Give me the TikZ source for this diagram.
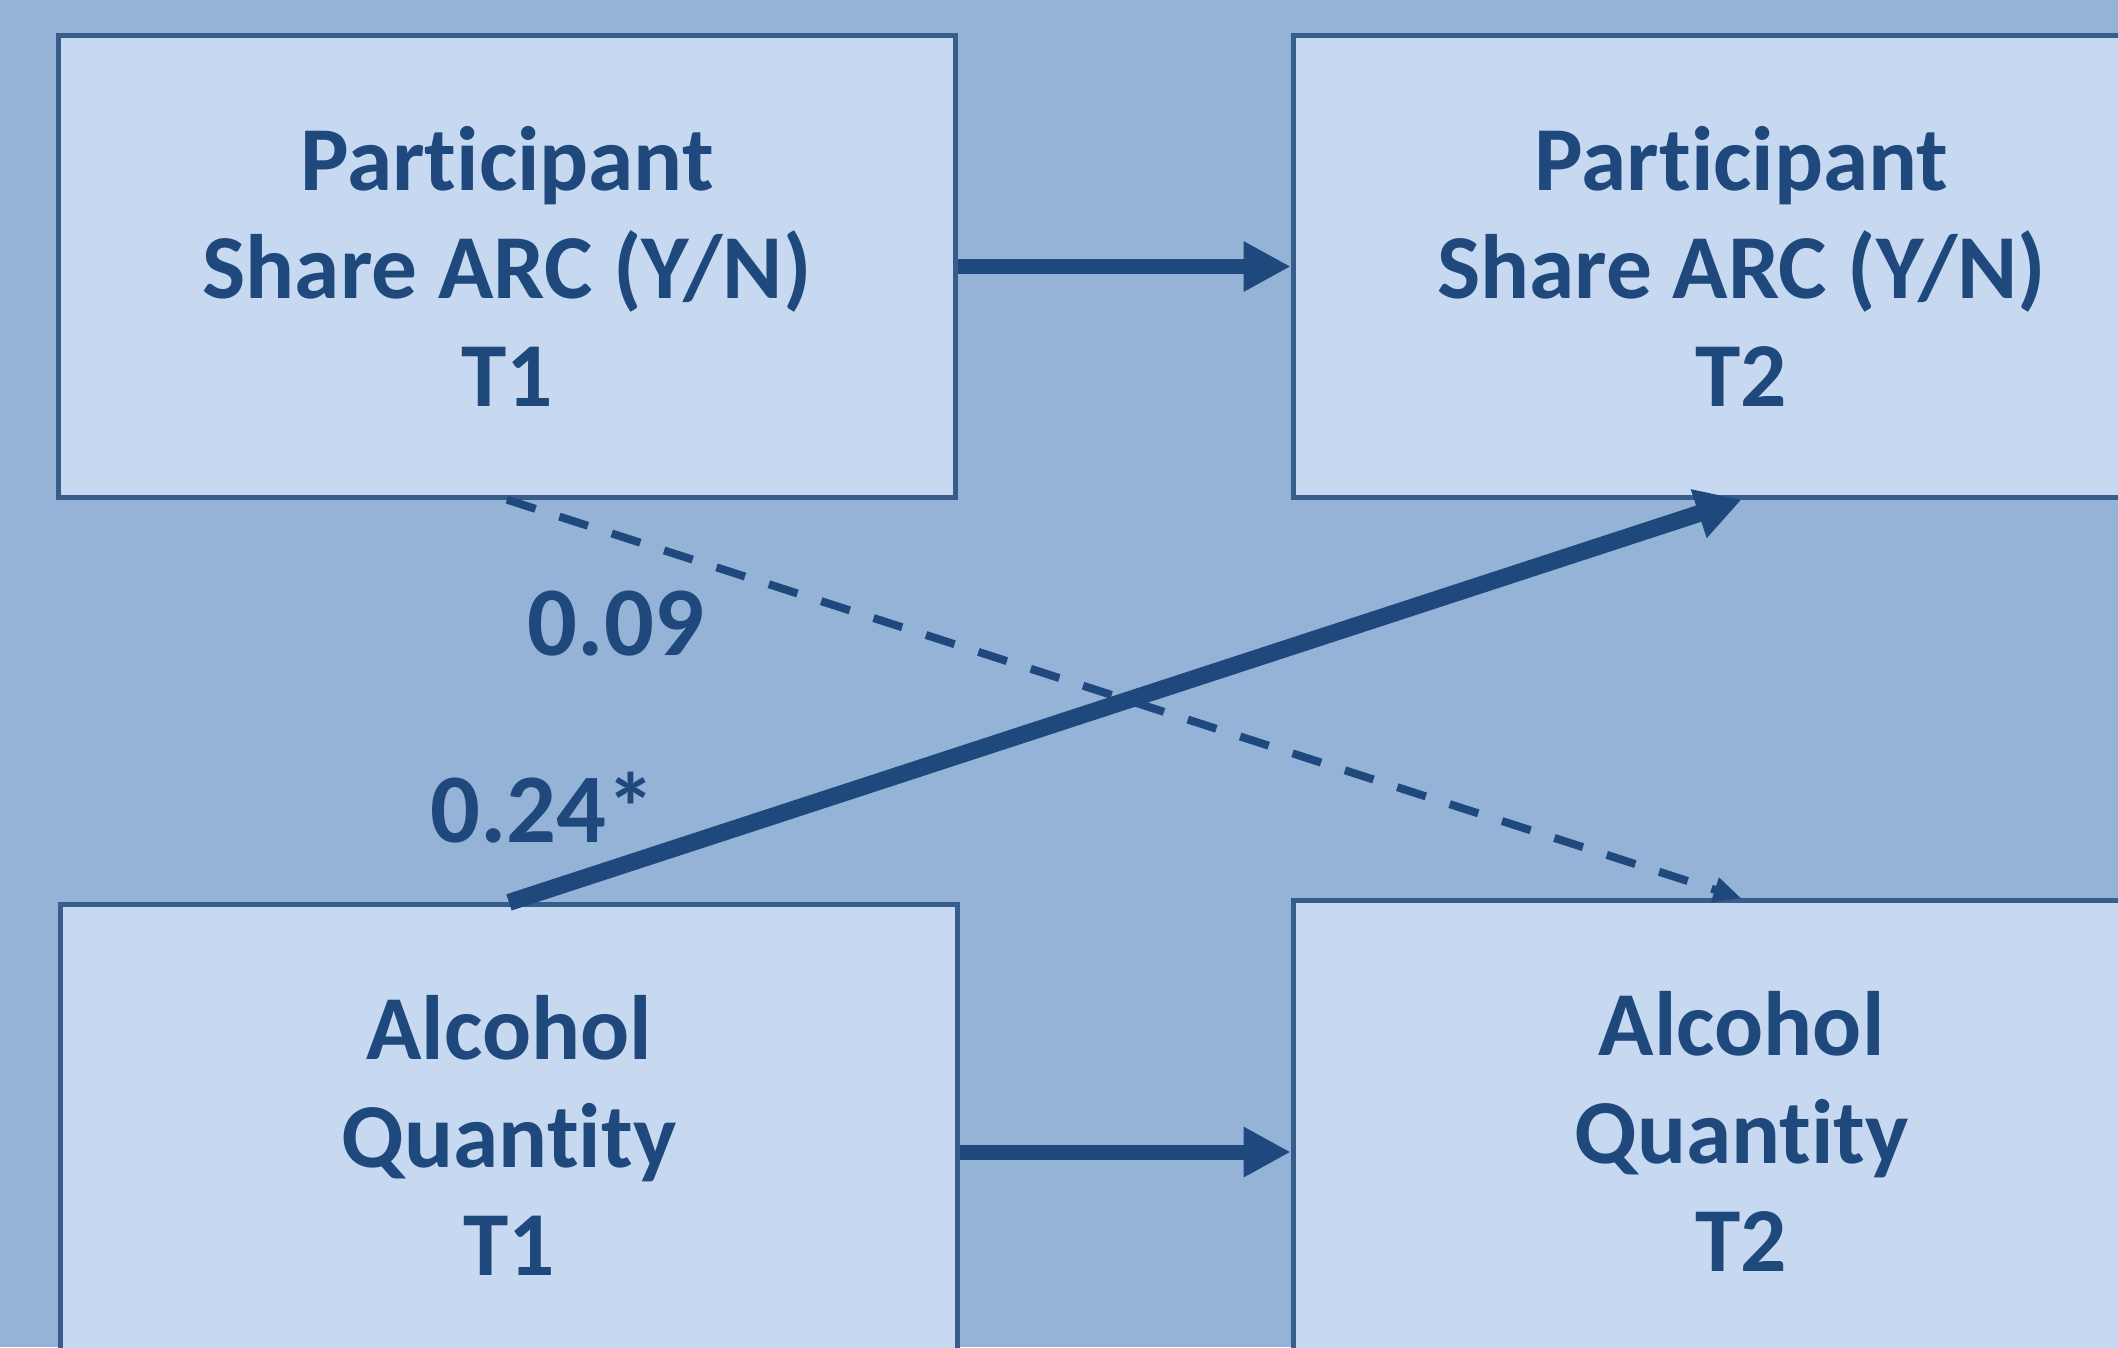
\documentclass[tikz,border=0pt]{standalone}
\usepackage{fontspec}
\setmainfont{Carlito}[RawFeature={-liga}]
\usetikzlibrary{arrows.meta,calc}
\definecolor{bgblue}{HTML}{95B3D7}
\definecolor{boxfill}{HTML}{C6D9F1}
\definecolor{boxline}{HTML}{385D8A}
\definecolor{ink}{HTML}{1F497D}
\tikzset{
  varbox/.style={draw=boxline, line width=0.05cm, fill=boxfill, text=ink,
    minimum width=8.96cm, minimum height=4.61cm, inner sep=0pt, align=center,
    font=\fontsize{26}{30.7}\selectfont\bfseries},
  coef/.style={text=ink, inner sep=0pt, font=\fontsize{28}{32}\selectfont\bfseries},
  stab/.style={draw=ink, line width=0.15cm, -{Triangle[length=0.47cm,width=0.47cm]}},
  crossed/.style={draw=ink, line width=0.17cm, -{Triangle[length=0.45cm,width=0.48cm]}},
  nsig/.style={draw=ink, line width=0.08cm, dash pattern=on 0.30cm off 0.25cm,
    -{Triangle[length=0.28cm,width=0.24cm]}}
}
\begin{document}
\begin{tikzpicture}[x=0.01cm,y=-0.01cm]
\useasboundingbox (0,0) rectangle (2118,1347);
\clip (0,0) rectangle (2118,1347);
\fill[bgblue] (0,0) rectangle (2118,1347);
\node[varbox] (b1) at (507,266.5) {Participant\\Share ARC (Y/N)\\T1};
\node[varbox] (b2) at (1741.5,266.5) {Participant\\Share ARC (Y/N)\\T2};
\node[varbox] (b3) at (509,1135.5) {Alcohol\\Quantity\\T1};
\node[varbox] (b4) at (1741.5,1131.5) {Alcohol\\Quantity\\T2};
\draw[stab] (b1.east) -- (b2.west);
\draw[stab] ([yshift=-0.165cm]b3.east) -- ([yshift=-0.165cm]b3.east -| b4.west);
\draw[nsig] (b1.south) -- (b4.north);
\draw[crossed] (b3.north) -- (b2.south);
\node[coef] (c1) at (616,624) {0.09};
\node[coef] (c2) at (543,808) {0.24*};
\end{tikzpicture}
\end{document}
